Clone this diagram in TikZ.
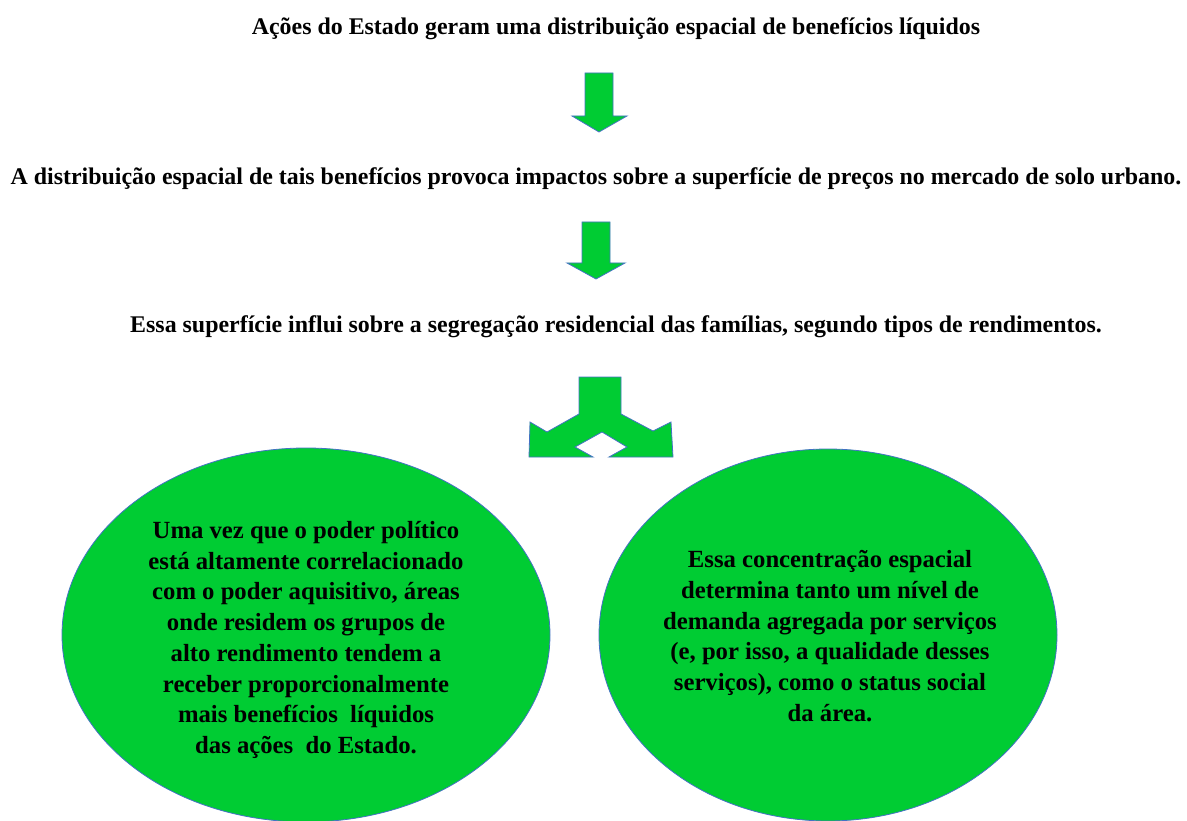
\documentclass[tikz,border=0pt]{standalone}
\usepackage{fontspec}
\setmainfont{Liberation Serif}
\usetikzlibrary{shapes.geometric}
\definecolor{gfill}{RGB}{0,204,51}
\definecolor{bline}{RGB}{68,114,196}
\begin{document}
\begin{tikzpicture}[x=1pt,y=-1pt,
  title/.style={font=\fontsize{23.9}{28}\selectfont\bfseries, inner sep=0pt, anchor=base},
  blob/.style={shape=ellipse, fill=gfill, draw=bline, line width=0.8pt, inner sep=0pt},
  blobtext/.style={font=\fontsize{24.7}{30.7}\selectfont\bfseries, align=center, inner sep=0pt},
  blockarrow/.style={fill=gfill, draw=bline, line width=0.8pt, line join=miter}]
\useasboundingbox (0,0) rectangle (1187,821);
\node[title] (t1) at (616,35) {Ações do Estado geram uma distribuição espacial de benefícios líquidos};
\node[title] (t2) at (596,185) {A distribuição espacial de tais benefícios provoca impactos sobre a superfície de preços no mercado de solo urbano.};
\node[title] (t3) at (616,333) {Essa superfície influi sobre a segregação residencial das famílias, segundo tipos de rendimentos.};
% arrow 1
\draw[blockarrow] (585,73) -- (613,73) -- (613,116) -- (627,116) -- (599,132) -- (572,116) -- (585,116) -- cycle;
% arrow 2
\draw[blockarrow] (582,222) -- (610,222) -- (610,263) -- (625,263) -- (596,279) -- (567,263) -- (582,263) -- cycle;
% split arrow
\draw[blockarrow] (579,377) -- (621,377) -- (621,414) -- (653,431) -- (671,422) -- (673,457) -- (609,457) -- (627,447) -- (602,432) -- (575,447) -- (593,457) -- (529,457) -- (530,422) -- (547,432) -- (579,414) -- cycle;
% ellipses
\node[blob, minimum width=488pt, minimum height=374pt] (e1) at (306,635) {};
\node[blob, minimum width=458pt, minimum height=372pt] (e2) at (828,635) {};
\node[blobtext] (x1) at (306,640) {Uma vez que o poder político\\está altamente correlacionado\\com o poder aquisitivo, áreas\\onde residem os grupos de\\alto rendimento tendem a\\receber proporcionalmente\\mais benefícios\ \ líquidos\\das ações\ \ do Estado.};
\node[blobtext] (x2) at (830,636) {Essa concentração espacial\\determina tanto um nível de\\demanda agregada por serviços\\(e, por isso, a qualidade desses\\serviços), como o status social\\da área.};
\end{tikzpicture}
\end{document}
